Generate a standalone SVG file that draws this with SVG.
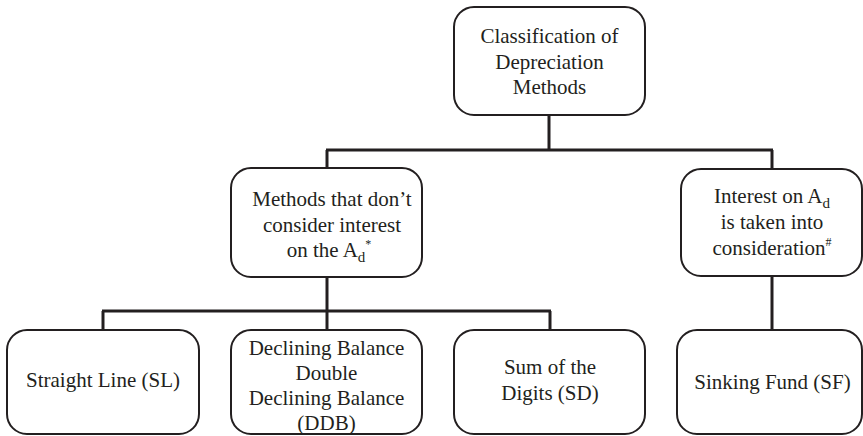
<svg xmlns="http://www.w3.org/2000/svg" width="863" height="436" viewBox="0 0 863 436">
  <style>
    .box { fill: #ffffff; stroke: #231f20; stroke-width: 2; }
    .link { fill: none; stroke: #231f20; stroke-width: 3; stroke-linecap: butt; }
    text { font-family: "Liberation Serif", "Times New Roman", serif; font-size: 21px; fill: #231f20; text-anchor: middle; }
    .sub { font-size: 15px; }
    .sup { font-size: 12px; }
  </style>
  <rect width="863" height="436" fill="#ffffff"/>

  <!-- connectors -->
  <g id="connectors">
    <path class="link" d="M549 115 V150"/>
    <path class="link" d="M326 150 H773"/>
    <path class="link" d="M327 150 V168"/>
    <path class="link" d="M772 150 V169"/>
    <path class="link" d="M327 277 V330"/>
    <path class="link" d="M102 311 H551"/>
    <path class="link" d="M103 311 V330"/>
    <path class="link" d="M550 311 V330"/>
    <path class="link" d="M772 276 V330"/>
  </g>

  <g id="root">
    <rect class="box" x="454" y="7" width="191" height="108" rx="20"/>
    <text x="549.5" y="43">Classification of</text>
    <text x="549.5" y="68.5">Depreciation</text>
    <text x="549.5" y="94">Methods</text>
  </g>

  <g id="no-interest">
    <rect class="box" x="231" y="168" width="191" height="109" rx="20"/>
    <text x="332" y="206">Methods that don’t</text>
    <text x="332" y="232">consider interest</text>
    <text x="329" y="257">on the A<tspan class="sub" dy="5">d</tspan><tspan class="sup" dy="-14">*</tspan></text>
  </g>

  <g id="with-interest">
    <rect class="box" x="681" y="169" width="181" height="107" rx="20"/>
    <text x="772" y="203">Interest on A<tspan class="sub" dy="5">d</tspan></text>
    <text x="772" y="229">is taken into</text>
    <text x="772" y="254.5">consideration<tspan class="sup" dy="-9">#</tspan></text>
  </g>

  <g id="straight-line">
    <rect class="box" x="7" y="330" width="192" height="104" rx="20"/>
    <text x="103" y="387">Straight Line (SL)</text>
  </g>

  <g id="declining-balance">
    <rect class="box" x="231" y="330" width="191" height="104" rx="20"/>
    <text x="326.5" y="355">Declining Balance</text>
    <text x="326.5" y="379.5">Double</text>
    <text x="326.5" y="405">Declining Balance</text>
    <text x="326.5" y="430">(DDB)</text>
  </g>

  <g id="sum-of-digits">
    <rect class="box" x="454" y="330" width="191" height="104" rx="20"/>
    <text x="550" y="373.5">Sum of the</text>
    <text x="550" y="399.5">Digits (SD)</text>
  </g>

  <g id="sinking-fund">
    <rect class="box" x="677" y="330" width="185" height="104" rx="20"/>
    <text x="772.5" y="388.5">Sinking Fund (SF)</text>
  </g>
</svg>
